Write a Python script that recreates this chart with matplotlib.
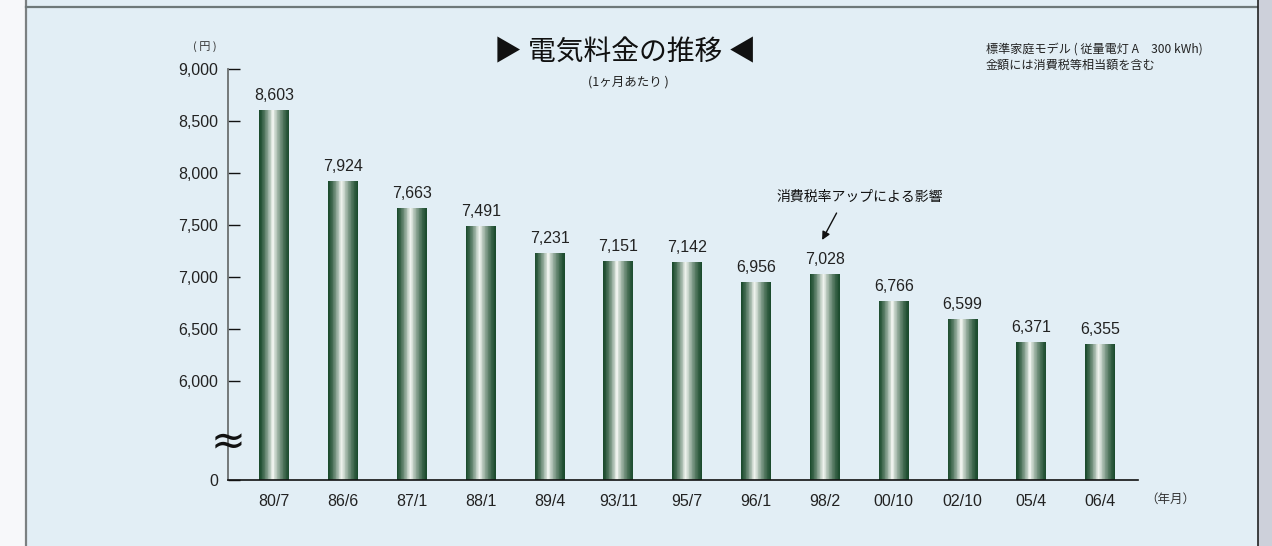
import numpy as np
import matplotlib
matplotlib.use("Agg")
import matplotlib.pyplot as plt
from matplotlib.patches import Rectangle
from matplotlib.lines import Line2D
from matplotlib.colors import to_rgb

# ---- data ----
categories = ["80/7", "86/6", "87/1", "88/1", "89/4", "93/11", "95/7",
              "96/1", "98/2", "00/10", "02/10", "05/4", "06/4"]
prices = [8603, 7924, 7663, 7491, 7231, 7151, 7142, 6956, 7028, 6766, 6599, 6371, 6355]
ytick_values = [0, 6000, 6500, 7000, 7500, 8000, 8500, 9000]

title = "▶ 電気料金の推移 ◀"
subtitle = "(1ヶ月あたり )"
note_lines = ["標準家庭モデル ( 従量電灯 A　300 kWh)", "金額には消費税等相当額を含む"]
annotation_text = "消費税率アップによる影響"
annotation_index = 8

JP = ["Noto Sans CJK JP", "DejaVu Sans"]
NUM = ["Liberation Sans", "DejaVu Sans"]

W, H = 1272, 546
fig = plt.figure(figsize=(W / 100, H / 100), dpi=100)
fig.patch.set_facecolor("#e2eef5")

def fx(px):
    return px / W
def fy(py):
    return 1 - py / H

fig.add_artist(Rectangle((0, 0), fx(25), 1, transform=fig.transFigure,
                         facecolor="#f7f8fa", edgecolor="none", zorder=0))
fig.add_artist(Rectangle((fx(1258), 0), 1 - fx(1258), 1, transform=fig.transFigure,
                         facecolor="#cdd0da", edgecolor="none", zorder=0))
fig.add_artist(Line2D([fx(25.5), fx(25.5)], [0, 1], transform=fig.transFigure,
                      color="#7b8081", lw=1.6))
fig.add_artist(Line2D([fx(26), fx(1257)], [fy(7), fy(7)], transform=fig.transFigure,
                      color="#6e7879", lw=1.6))
fig.add_artist(Line2D([fx(1257.5), fx(1257.5)], [0, 1], transform=fig.transFigure,
                      color="#222222", lw=1.2))

# ---- axes with broken (compressed) y scale ----
ax = fig.add_axes([fx(228), fy(480), fx(1138) - fx(228), fy(69) - fy(480)])
ax.set_facecolor("none")

BREAK = 6000.0
LOW = 952.0
def fwd(v):
    v = np.asarray(v, dtype=float)
    return np.where(v >= BREAK, v - BREAK + LOW, v * LOW / BREAK)
def inv(y):
    y = np.asarray(y, dtype=float)
    return np.where(y >= LOW, y - LOW + BREAK, y * BREAK / LOW)
ax.set_yscale("function", functions=(fwd, inv))
ax.set_ylim(0, 9000)

x = np.arange(len(categories))
ax.set_xlim(-0.673, len(categories) - 1 + 0.55)

# gradient bars built from thin slices
bar_w = 0.436
n = 40
dark = np.array(to_rgb("#1a4a2c"))
light = np.array(to_rgb("#f5f8f4"))
for k in range(n):
    t = (k + 0.5) / n
    peak = 0.45
    d = abs(t - peak) / (peak if t < peak else 1 - peak)
    g = max(0.0, 1 - d) ** 1.4
    c = dark * (1 - g) + light * g
    ax.bar(x - bar_w / 2 + k * bar_w / n, prices, width=bar_w / n * 1.05,
           align="edge", color=c, edgecolor="none", zorder=2)

# value labels
for xi, v in zip(x, prices):
    ax.annotate(f"{v:,}", (xi, v), xytext=(0, 5), textcoords="offset points",
                ha="center", va="bottom", fontsize=11.5, color="#222222",
                family=NUM)

# spines / ticks
for s in ["top", "right"]:
    ax.spines[s].set_visible(False)
ax.spines["left"].set_color("#6b6f70")
ax.spines["left"].set_linewidth(1.3)
ax.spines["bottom"].set_color("#111111")
ax.spines["bottom"].set_linewidth(1.2)
ax.spines["bottom"].set_zorder(3)

ax.set_yticks(ytick_values)
ax.set_yticklabels([f"{v:,}" for v in ytick_values], family=NUM, fontsize=11.5,
                   color="#222222")
ax.yaxis.set_minor_locator(matplotlib.ticker.NullLocator())
ax.tick_params(axis="y", direction="in", length=8.6, width=1.0, color="#111111",
               pad=7)
ax.set_xticks(x)
ax.set_xticklabels(categories, family=NUM, fontsize=11.5, color="#222222")
ax.tick_params(axis="x", length=0, pad=10)

# axis break symbol
ax.text(0, 2300, "≈", transform=ax.get_yaxis_transform(), ha="center",
        va="center", fontsize=30, color="#111111", family=["DejaVu Sans"], zorder=4)

# unit labels
fig.text(fx(205), fy(47), "( 円 )", ha="center", va="center", fontsize=8,
         color="#333333", family=JP)
fig.text(fx(1145), fy(499), "（年月）", ha="left", va="center", fontsize=9,
         color="#333333", family=JP)

# titles
fig.text(fx(625), fy(52), title, ha="center", va="center", fontsize=20,
         color="#111111", family=JP)
fig.text(fx(628), fy(82), subtitle, ha="center", va="center", fontsize=9,
         color="#222222", family=JP)
fig.text(fx(986), fy(49), note_lines[0], ha="left", va="center", fontsize=8.7,
         color="#222222", family=JP)
fig.text(fx(986), fy(65), note_lines[1], ha="left", va="center", fontsize=8.7,
         color="#222222", family=JP)

# annotation about consumption tax rise
ai = annotation_index
ax.annotate("", xy=(ai - 0.04, 7356), xytext=(ai + 0.17, 7615),
            arrowprops=dict(arrowstyle="-|>", color="#111111", lw=1.0,
                            mutation_scale=12, shrinkA=0, shrinkB=0))
ax.text(ai + 0.51, 7769, annotation_text, ha="center", va="center", fontsize=10,
        color="#111111", family=JP)

fig.savefig("out.png", dpi=100, facecolor=fig.get_facecolor())
